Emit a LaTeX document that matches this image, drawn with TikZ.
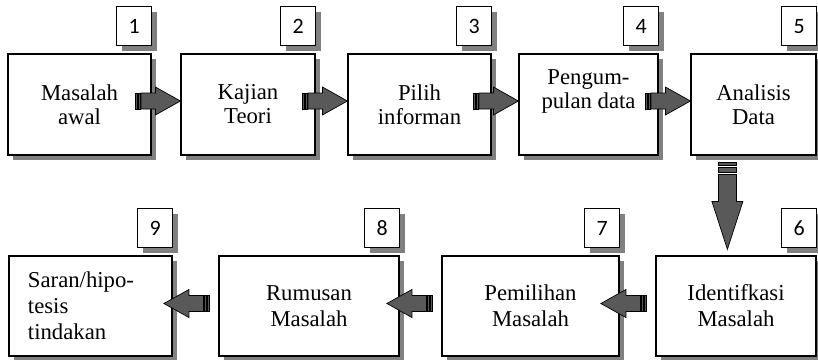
\documentclass[tikz,border=0pt]{standalone}
\usepackage{fontspec}
\setmainfont{Liberation Serif}
\newfontfamily\numfont{Carlito}
\usetikzlibrary{shadows,calc}

\definecolor{shadowgray}{HTML}{808080}
\definecolor{arrowgray}{HTML}{595959}

\tikzset{
  boxshadow/.style={drop shadow={shadow xshift=5bp, shadow yshift=-5bp, opacity=1, fill=shadowgray}},
  stepbox/.style={rectangle, draw=black, line width=1.2bp, fill=white, inner sep=0pt,
    align=center, boxshadow},
  toprow/.style={stepbox, minimum height=101bp, font=\fontsize{22.8}{24}\selectfont},
  botrow/.style={stepbox, minimum height=100bp, font=\fontsize{22.8}{26}\selectfont},
  steptext/.style={inner sep=0pt, align=center, font=\fontsize{22.8}{24}\selectfont},
  numbox/.style={rectangle, draw=black, line width=1bp, fill=white, inner sep=0pt,
    minimum width=35bp, minimum height=39bp, anchor=south east, boxshadow,
    font=\numfont\fontsize{22}{22}\selectfont},
  arrowpart/.style={fill=arrowgray, draw=black, line width=0.7bp, line join=miter},
  % striped block arrow pointing to +x, tip at the origin
  rarrow/.pic={
    \filldraw[arrowpart] (-45,-8) rectangle (-43.5,8);
    \filldraw[arrowpart] (-42.5,-8) rectangle (-40.5,8);
    \filldraw[arrowpart] (-39.5,-8) -- (-25,-8) -- (-25,-14) -- (0,0)
      -- (-25,14) -- (-25,8) -- (-39.5,8) -- cycle;
  },
  % striped block arrow pointing down, tip at the origin
  darrow/.pic={
    \filldraw[arrowpart] (-9,-87) rectangle (9,-84);
    \filldraw[arrowpart] (-9,-82) rectangle (9,-77);
    \filldraw[arrowpart] (-9,-75) -- (-9,-48) -- (-15.5,-48) -- (0,0)
      -- (15.5,-48) -- (9,-48) -- (9,-75) -- cycle;
  },
}

\begin{document}
\begin{tikzpicture}[x=1bp, y=-1bp]
\useasboundingbox (0,0) rectangle (818,359);

% top row
\node[toprow, minimum width=143bp] (b1) at (79.5,104.5) {Masalah\\awal};
\node[toprow, minimum width=134bp] (b2) at (248,104.5) {Kajian\\Teori};
\node[toprow, minimum width=143bp] (b3) at (419.5,104.5) {Pilih\\informan};
\node[toprow, minimum width=139bp] (b4) at (588.5,104.5) {};
\node[steptext] (t4) at ($(b4.center)+(0,-13)$) {Pengum-\\pulan data};
\node[toprow, minimum width=125bp] (b5) at (753.5,104.5) {Analisis\\Data};

% bottom row
\node[botrow, minimum width=177bp] (b7) at (530.5,306) {Pemilihan\\Masalah};
\node[botrow, minimum width=160bp] (b6) at (736,306) {Identifkasi\\Masalah};
\node[botrow, minimum width=180bp] (b8) at (309,306) {Rumusan\\Masalah};
\node[botrow, text width=125bp, inner xsep=19bp, align=left] (b9) at (90.5,306)
  {Saran/hipo-\\tesis\\tindakan};

% step numbers
\node[numbox] (n1) at ($(b1.north east)+(0.5,-7)$) {1};
\node[numbox] (n2) at ($(b2.north east)+(0.5,-7)$) {2};
\node[numbox] (n3) at ($(b3.north east)+(0.5,-7)$) {3};
\node[numbox] (n4) at ($(b4.north east)+(0.5,-7)$) {4};
\node[numbox] (n5) at ($(b5.north east)+(0.5,-7)$) {5};
\node[numbox] (n6) at ($(b6.north east)+(0.5,-7)$) {6};
\node[numbox] (n7) at ($(b7.north east)+(0.5,-7)$) {7};
\node[numbox] (n8) at ($(b8.north east)+(0.5,-7)$) {8};
\node[numbox] (n9) at ($(b9.north east)+(0.5,-7)$) {9};

% connectors
\pic at ($(b2.west)+(0,-3.5)$) {rarrow};
\pic at ($(b3.west)+(0,-3.5)$) {rarrow};
\pic at ($(b4.west)+(0,-3.5)$) {rarrow};
\pic at ($(b5.west)+(0,-3.5)$) {rarrow};
\pic at ($(b6.north west)+(72,-6)$) {darrow};
\pic[xscale=-1] at ($(b6.west)+(-54.5,-2.5)$) {rarrow};
\pic[xscale=-1] at ($(b7.west)+(-54.5,-2.5)$) {rarrow};
\pic[xscale=-1] at ($(b8.west)+(-54.5,-2.5)$) {rarrow};
\end{tikzpicture}
\end{document}
